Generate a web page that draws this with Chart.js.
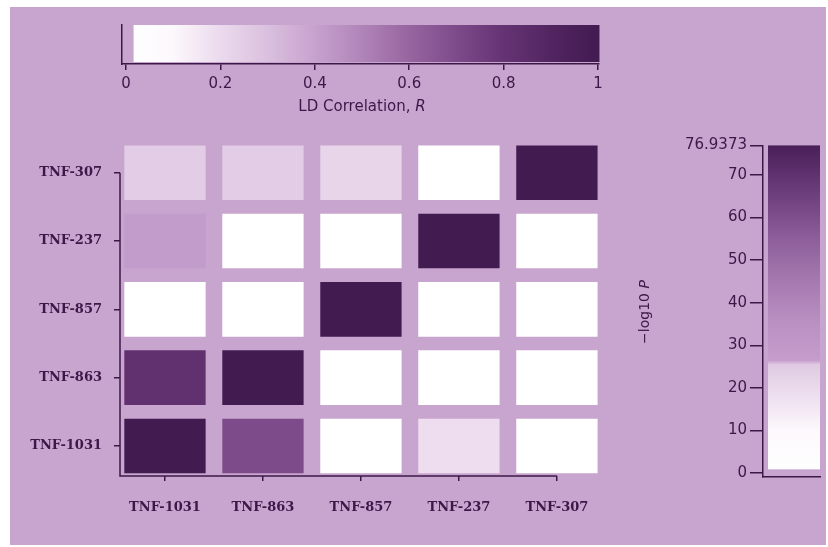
<!DOCTYPE html>
<html>
<head>
<meta charset="utf-8">
<script src="https://cdn.jsdelivr.net/npm/chart.js@4.4.0/dist/chart.umd.min.js"></script>
<style>
  html, body { margin: 0; padding: 0; background: #ffffff; }
  #wrap { position: relative; width: 828px; height: 547px; overflow: hidden; }
  #panel { position: absolute; left: 10px; top: 7px; width: 816px; height: 538px; background: #c8a5cf; }
  #wrap canvas { position: absolute; left: 0; top: 0; }
</style>
</head>
<body>
<div id="wrap">
  <div id="panel"></div>
  <canvas id="heat" width="828" height="547"></canvas>
  <canvas id="ldBar" width="828" height="547"></canvas>
  <canvas id="pBar" width="828" height="547"></canvas>
</div>
<script>
// SNPs: x axis left -> right, y axis bottom -> top
const snps = ["TNF-1031", "TNF-863", "TNF-857", "TNF-237", "TNF-307"];

// LD correlation R for each row (columns in snps order)
const rowTNF1031 = [1, 0.70, 0, 0.19, 0];
const rowTNF863 = [0.82, 1, 0, 0, 0];
const rowTNF857 = [0, 0, 1, 0, 0];
const rowTNF237 = [0.42, 0, 0, 1, 0];
const rowTNF307 = [0.25, 0.25, 0.22, 0, 1];
const rows = [rowTNF1031, rowTNF863, rowTNF857, rowTNF237, rowTNF307];

// colour bar ticks
const ldTicks = [0, 0.2, 0.4, 0.6, 0.8, 1];
const pTicks = [0, 10, 20, 30, 40, 50, 60, 70];
const pMax = 76.9373;

const ink = "#3b1848";
const sansFont = { family: "'DejaVu Sans', sans-serif", size: 15 };
const cellHalf = 0.4;

// colour maps
const ldStops = [[0, "#ffffff"], [0.1, "#fcf8fc"], [0.2, "#ebdaed"], [0.3, "#dac0de"], [0.4, "#c7a2ce"],
  [0.5, "#b084b9"], [0.6, "#97659f"], [0.7, "#7d4b8a"], [0.8, "#653373"], [0.9, "#522561"], [1, "#421b51"]];
const pStops = [[0, "#ffffff"], [10, "#fdf9fd"], [15, "#f3e8f4"], [20, "#eadaec"], [25.5, "#dfcae2"],
  [26.5, "#c59ccc"], [35, "#bb90c3"], [45, "#a67ab0"], [55, "#8d5e9a"], [65, "#6f407e"], [76.9373, "#4a1f59"]];

function hexRgb(h) {
  return [1, 3, 5].map(i => parseInt(h.substr(i, 2), 16));
}

function ldColor(v) {
  for (let i = 1; i < ldStops.length; i++) {
    if (v <= ldStops[i][0]) {
      const [a, ca] = ldStops[i - 1], [b, cb] = ldStops[i];
      const t = (v - a) / (b - a);
      const A = hexRgb(ca), B = hexRgb(cb);
      const c = A.map((x, k) => Math.round(x + (B[k] - x) * t));
      return `rgb(${c[0]},${c[1]},${c[2]})`;
    }
  }
  return ldStops[ldStops.length - 1][1];
}

function fixedTicks(list) {
  return scale => { scale.ticks = list.map(v => ({ value: v })); };
}

// draw "plain" + "italic" text centred at 0,0 of current transform
function mixedText(ctx, plain, ital, size) {
  ctx.font = `${size}px 'DejaVu Sans', sans-serif`;
  const wa = ctx.measureText(plain).width;
  ctx.font = `italic ${size}px 'DejaVu Sans', sans-serif`;
  const wb = ctx.measureText(ital).width;
  const sx = -(wa + wb) / 2;
  ctx.font = `${size}px 'DejaVu Sans', sans-serif`;
  ctx.fillText(plain, sx, 0);
  ctx.font = `italic ${size}px 'DejaVu Sans', sans-serif`;
  ctx.fillText(ital, sx + wa, 0);
}

// ---------- heat map ----------
const axisLines = {
  id: "axisLines",
  afterDraw(chart) {
    const { ctx, chartArea, scales: { x, y } } = chart;
    ctx.save();
    ctx.strokeStyle = ink;
    ctx.lineWidth = 1.5;
    ctx.beginPath();
    ctx.moveTo(chartArea.left, y.getPixelForValue(snps.length - 1));
    ctx.lineTo(chartArea.left, chartArea.bottom);
    ctx.lineTo(x.getPixelForValue(snps.length - 1), chartArea.bottom);
    ctx.stroke();
    ctx.restore();
  }
};

const serifTicks = { font: { family: "'DejaVu Serif', serif", size: 13, weight: "bold" }, color: ink };

new Chart(document.getElementById("heat"), {
  type: "bar",
  data: {
    datasets: rows.map((vals, ri) => ({
      label: snps[ri],
      data: vals.map((v, ci) => ({ x: ci, y: [ri - cellHalf, ri + cellHalf] })),
      backgroundColor: vals.map(ldColor),
      borderWidth: 0,
      grouped: false,
      categoryPercentage: 1,
      barPercentage: 0.83
    }))
  },
  options: {
    responsive: false,
    animation: false,
    events: [],
    layout: { padding: { left: 0, top: 142, right: 227, bottom: 31 } },
    plugins: { legend: { display: false }, tooltip: { enabled: false } },
    scales: {
      x: {
        type: "linear",
        offset: false,
        min: -0.459,
        max: 4.45,
        afterBuildTicks: fixedTicks([0, 1, 2, 3, 4]),
        afterFit: s => { s.height = 40; },
        ticks: { ...serifTicks, padding: 19, maxRotation: 0, callback: v => snps[v] },
        grid: { offset: false, drawOnChartArea: false, drawTicks: true, tickLength: 5, color: ink, lineWidth: 1.5 },
        border: { display: false }
      },
      y: {
        type: "linear",
        offset: false,
        min: -0.44,
        max: 4.45,
        afterBuildTicks: fixedTicks([0, 1, 2, 3, 4]),
        afterFit: s => { s.width = 120; },
        ticks: { ...serifTicks, padding: 12, callback: v => snps[v] },
        grid: { offset: false, drawOnChartArea: false, drawTicks: true, tickLength: 6, color: ink, lineWidth: 1.5 },
        border: { display: false }
      }
    }
  },
  plugins: [axisLines]
});

// ---------- LD colour bar (top) ----------
const ldGradient = {
  id: "ldGradient",
  afterDraw(chart) {
    const { ctx, chartArea, scales: { x } } = chart;
    const x0 = x.getPixelForValue(0.016), x1 = x.getPixelForValue(1.003);
    const g = ctx.createLinearGradient(x.getPixelForValue(0), 0, x.getPixelForValue(1), 0);
    ldStops.forEach(([v, c]) => g.addColorStop(v, c));
    ctx.save();
    ctx.fillStyle = g;
    ctx.fillRect(x0, chartArea.top, x1 - x0, chartArea.bottom - 2 - chartArea.top);
    // axis title with italic R
    ctx.fillStyle = ink;
    ctx.textBaseline = "middle";
    ctx.translate(x.getPixelForValue(0.5), 107);
    mixedText(ctx, "LD Correlation, ", "R", 15);
    ctx.restore();
  }
};

new Chart(document.getElementById("ldBar"), {
  type: "scatter",
  data: { datasets: [] },
  options: {
    responsive: false,
    animation: false,
    events: [],
    layout: { padding: { left: 121.3, top: 25, right: 229, bottom: 443 } },
    plugins: { legend: { display: false }, tooltip: { enabled: false } },
    scales: {
      x: {
        type: "linear",
        min: -0.01,
        max: 1.002,
        afterBuildTicks: fixedTicks(ldTicks),
        afterFit: s => { s.height = 40; },
        ticks: { font: sansFont, color: ink, padding: 5, maxRotation: 0, callback: v => String(v) },
        grid: { drawOnChartArea: false, drawTicks: true, tickLength: 6, color: ink, lineWidth: 1.5 },
        border: { display: true, color: ink, width: 1.5 }
      },
      y: {
        type: "linear",
        min: 0,
        max: 1,
        afterFit: s => { s.width = 0; },
        ticks: { display: false },
        grid: { display: false },
        border: { display: true, color: ink, width: 1.5 }
      }
    }
  },
  plugins: [ldGradient]
});

// ---------- -log10 P colour bar (right) ----------
const pGradient = {
  id: "pGradient",
  afterDraw(chart) {
    const { ctx, chartArea, scales: { y } } = chart;
    const yTop = y.getPixelForValue(pMax), yBot = y.getPixelForValue(0.9);
    const g = ctx.createLinearGradient(0, y.getPixelForValue(0), 0, yTop);
    pStops.forEach(([v, c]) => g.addColorStop(v / pMax, c));
    ctx.save();
    ctx.fillStyle = g;
    ctx.fillRect(chartArea.left + 5, yTop, chartArea.right - chartArea.left - 5, yBot - yTop);
    // rotated title with italic P
    ctx.fillStyle = ink;
    ctx.textBaseline = "middle";
    ctx.translate(645, 312);
    ctx.rotate(-Math.PI / 2);
    mixedText(ctx, "\u2212log10 ", "P", 14);
    ctx.restore();
  }
};

new Chart(document.getElementById("pBar"), {
  type: "scatter",
  data: { datasets: [] },
  options: {
    responsive: false,
    animation: false,
    events: [],
    layout: { padding: { left: 663, top: 145.4, right: 8, bottom: 70 } },
    plugins: { legend: { display: false }, tooltip: { enabled: false } },
    scales: {
      x: {
        type: "linear",
        min: 0,
        max: 1,
        afterFit: s => { s.height = 0; },
        ticks: { display: false },
        grid: { display: false },
        border: { display: true, color: ink, width: 1.5 }
      },
      y: {
        type: "linear",
        min: -0.9,
        max: pMax,
        afterBuildTicks: fixedTicks([...pTicks, pMax]),
        afterFit: s => { s.width = 100; },
        ticks: { font: sansFont, color: ink, padding: 3, callback: v => String(v) },
        grid: { drawOnChartArea: false, drawTicks: true, tickLength: 13, color: ink, lineWidth: 1.5 },
        border: { display: true, color: ink, width: 1.5 }
      }
    }
  },
  plugins: [pGradient]
});
</script>
</body>
</html>
